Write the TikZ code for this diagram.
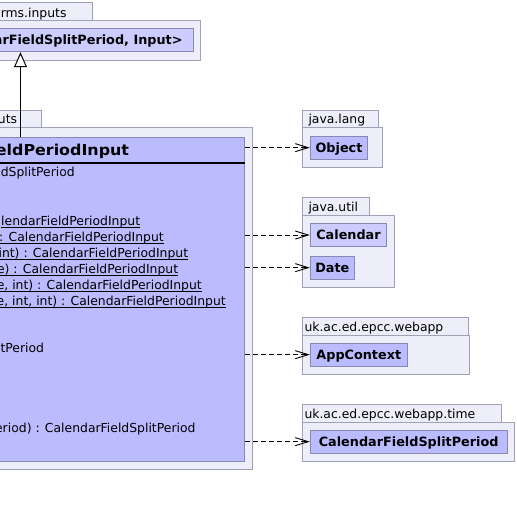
\documentclass[tikz,border=0pt]{standalone}
\usepackage{fontspec}
\setmainfont{DejaVu Sans}
\usetikzlibrary{arrows.meta}
\definecolor{pkgfill}{RGB}{238,238,250}
\definecolor{pkgline}{RGB}{160,160,182}
\definecolor{clsdark}{RGB}{187,187,255}
\definecolor{clslight}{RGB}{204,204,255}
\definecolor{clsline}{RGB}{136,136,176}
\tikzset{
  pkg/.style={draw=pkgline, fill=pkgfill, line width=1pt},
  cls/.style={draw=clsline, line width=1pt, inner sep=0pt,
    font=\fontsize{12.8}{14}\selectfont\bfseries, text height=9.3pt, text depth=0pt},
  lbl/.style={inner sep=0pt, font=\fontsize{12.4}{14}\selectfont},
  boldlbl/.style={inner sep=0pt, font=\fontsize{12.8}{14}\selectfont\bfseries},
  titlelbl/.style={inner sep=0pt, font=\fontsize{15}{17}\selectfont\bfseries},
  uline/.style={draw=black, line width=0.9pt},
  dep/.style={draw=black, line width=0.9pt, dash pattern=on 5pt off 3pt,
    -{Straight Barb[length=13pt,width=8pt]}},
  gen/.style={draw=black, line width=1pt,
    -{Triangle[open,length=15pt,width=13pt,fill=white]}},
}
\begin{document}
\begin{tikzpicture}[x=1pt,y=-1pt]
\useasboundingbox (0,0) rectangle (517,507);
\clip (0,0) rectangle (517,507);
\fill[white] (0,0) rectangle (517,507);

% top package
\path[pkg] (-5,2) rectangle (92.3,20.7);
\path[pkg] (-5,20.7) rectangle (200.7,60);
\node[lbl, anchor=base east] (toptab) at (66.7,17) {orms.inputs};
\node[cls, fill=clslight, minimum width=198.3pt, minimum height=23.4pt] (topcls) at (94.15,40) {};
\node[boldlbl, anchor=base east] (topname) at (182.7,44.2) {arFieldSplitPeriod, Input>};

% main package
\path[pkg] (-5,110.3) rectangle (41,127.3);
\path[pkg] (-5,127.3) rectangle (252,469);
\node[lbl, anchor=base east] (maintab) at (17.3,123.6) {uts};
\node[cls, fill=clsdark, minimum width=249pt, minimum height=324pt] (main) at (119.5,299) {};
\coordinate (titlepos) at (129.3,155.6);
\node[titlelbl, anchor=base east, xscale=1.06, transform shape] (title) at (titlepos) {eldPeriodInput};
\draw[line width=2pt] (main.west |- 0,163) -- (main.east |- 0,163);
\node[lbl, anchor=base east] (a1) at (75,176.8) {dSplitPeriod};
\node[lbl, anchor=base east] (m1) at (140.3,225) {lendarFieldPeriodInput};
\node[lbl, anchor=base east] (m2) at (164,241) {: CalendarFieldPeriodInput};
\node[lbl, anchor=base east] (m3) at (188.3,257) {int) : CalendarFieldPeriodInput};
\node[lbl, anchor=base east] (m4) at (178.3,273) {e) : CalendarFieldPeriodInput};
\node[lbl, anchor=base east] (m5) at (202,289) {e, int) : CalendarFieldPeriodInput};
\node[lbl, anchor=base east] (m6) at (226,305) {e, int, int) : CalendarFieldPeriodInput};
\foreach \m in {m1,m2,m3,m4,m5,m6}{
  \draw[uline] ([yshift=-2.6pt]\m.base west) -- ([yshift=-2.6pt]\m.base east);
}
\node[lbl, anchor=base east] (m7) at (44.3,352) {tPeriod};
\node[lbl, anchor=base east] (m8) at (195.7,432) {eriod) : CalendarFieldSplitPeriod};

% java.lang
\path[pkg] (302.3,110.3) rectangle (378.3,127.3);
\path[pkg] (302.3,127.3) rectangle (382.3,167.3);
\node[lbl, anchor=base west] (langtab) at (308.3,123.6) {java.lang};
\node[cls, fill=clsdark, minimum width=57.4pt, minimum height=23.3pt] (obj) at (339,147.65) {Object};

% java.util
\path[pkg] (302.3,197.3) rectangle (369.3,215);
\path[pkg] (302.3,215) rectangle (394.3,287.3);
\node[lbl, anchor=base west] (utiltab) at (308.3,211.3) {java.util};
\node[cls, fill=clslight, minimum width=76.4pt, minimum height=23.4pt] (cal) at (348.5,235) {Calendar};
\node[cls, fill=clsdark, minimum width=44pt, minimum height=23.3pt] (date) at (332.3,267.65) {Date};

% webapp
\path[pkg] (302.3,317.3) rectangle (468.3,335);
\path[pkg] (302.3,335) rectangle (469.3,374);
\node[lbl, anchor=base west] (webtab) at (304.3,331.3) {uk.ac.ed.epcc.webapp};
\node[cls, fill=clsdark, minimum width=97pt, minimum height=22.7pt] (app) at (358.8,354.65) {AppContext};

% webapp.time
\path[pkg] (302.3,404.3) rectangle (501,422.3);
\path[pkg] (302.3,422.3) rectangle (514,461.7);
\node[lbl, anchor=base west] (timetab) at (304.3,418.6) {uk.ac.ed.epcc.webapp.time};
\node[cls, fill=clsdark, minimum width=196.7pt, minimum height=23.3pt] (cfsp) at (408.65,441.65) {CalendarFieldSplitPeriod};

% connectors
\coordinate (gx) at (20.5,0);
\draw[gen] (main.north -| gx) -- (topcls.south -| gx);
\draw[dep] (main.east |- obj.west) -- (obj.west);
\draw[dep] (main.east |- cal.west) -- (cal.west);
\draw[dep] (main.east |- date.west) -- (date.west);
\draw[dep] (main.east |- app.west) -- (app.west);
\draw[dep] (main.east |- cfsp.west) -- (cfsp.west);
\end{tikzpicture}
\end{document}
